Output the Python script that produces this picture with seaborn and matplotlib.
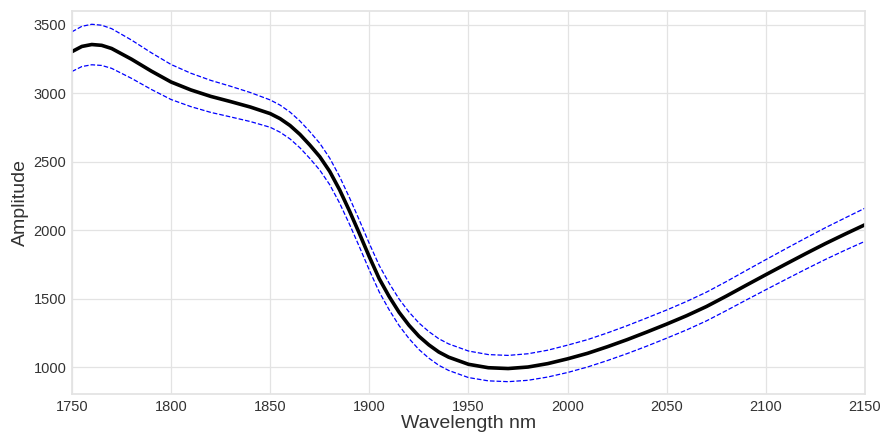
import matplotlib
matplotlib.use("Agg")
import matplotlib.pyplot as plt
import seaborn as sns
import numpy as np
import pandas as pd

wavelength = [1750, 1755, 1760, 1765, 1770, 1780, 1790, 1800, 1810, 1820, 1830, 1840,
              1850, 1855, 1860, 1865, 1870, 1875, 1880, 1885, 1890, 1895, 1900, 1905,
              1910, 1915, 1920, 1925, 1930, 1935, 1940, 1950, 1960, 1970, 1980, 1990,
              2000, 2010, 2020, 2030, 2040, 2050, 2060, 2070, 2080, 2090, 2100, 2110,
              2120, 2130, 2140, 2150]
amplitude = [3305, 3343, 3357, 3351, 3328, 3250, 3163, 3083, 3025, 2978, 2940, 2900,
             2852, 2815, 2765, 2700, 2622, 2537, 2430, 2295, 2140, 1975, 1805, 1645,
             1515, 1400, 1305, 1225, 1162, 1110, 1072, 1020, 995, 989, 1000, 1025,
             1060, 1100, 1148, 1200, 1256, 1314, 1375, 1442, 1518, 1597, 1675, 1752,
             1828, 1902, 1972, 2040]
half_width = [145, 147, 148, 147, 145, 140, 134, 128, 122, 117, 112, 106,
              100, 99, 98, 98, 98, 98, 97, 97, 97, 97, 97, 97,
              97, 97, 97, 97, 97, 97, 97, 97, 96, 96, 97, 98,
              100, 100, 101, 102, 103, 103, 104, 105, 106, 108, 110, 112,
              114, 116, 118, 121]

df = pd.DataFrame({"Wavelength": wavelength, "Amplitude": amplitude, "hw": half_width})
df["Upper"] = df["Amplitude"] + df["hw"]
df["Lower"] = df["Amplitude"] - df["hw"]

sns.set_theme(style="whitegrid", rc={
    "grid.color": "#e3e3e3",
    "axes.edgecolor": "#e3e3e3",
    "grid.linewidth": 0.9,
})
plt.rcParams["font.family"] = ["Liberation Sans", "DejaVu Sans"]

fig = plt.figure(figsize=(8.84, 4.33), dpi=100)
ax = fig.add_axes([0.0814, 0.0901, 0.8971, 0.8845])

sns.lineplot(data=df, x="Wavelength", y="Upper", ax=ax, color="blue",
             linestyle="--", linewidth=0.9)
sns.lineplot(data=df, x="Wavelength", y="Lower", ax=ax, color="blue",
             linestyle="--", linewidth=0.9)
sns.lineplot(data=df, x="Wavelength", y="Amplitude", ax=ax, color="black",
             linewidth=2.6)

ax.set_xlim(1750, 2150)
ax.set_ylim(803, 3602)
ax.set_xticks([1750, 1800, 1850, 1900, 1950, 2000, 2050, 2100, 2150])
ax.set_yticks([1000, 1500, 2000, 2500, 3000, 3500])
ax.tick_params(axis="both", labelsize=10.5, colors="#333333", length=0, pad=4)
ax.set_xlabel("Wavelength nm", fontsize=14, color="#333333", labelpad=1)
ax.set_ylabel("Amplitude", fontsize=14, color="#333333", labelpad=3)

fig.savefig("out.png", dpi=100)
